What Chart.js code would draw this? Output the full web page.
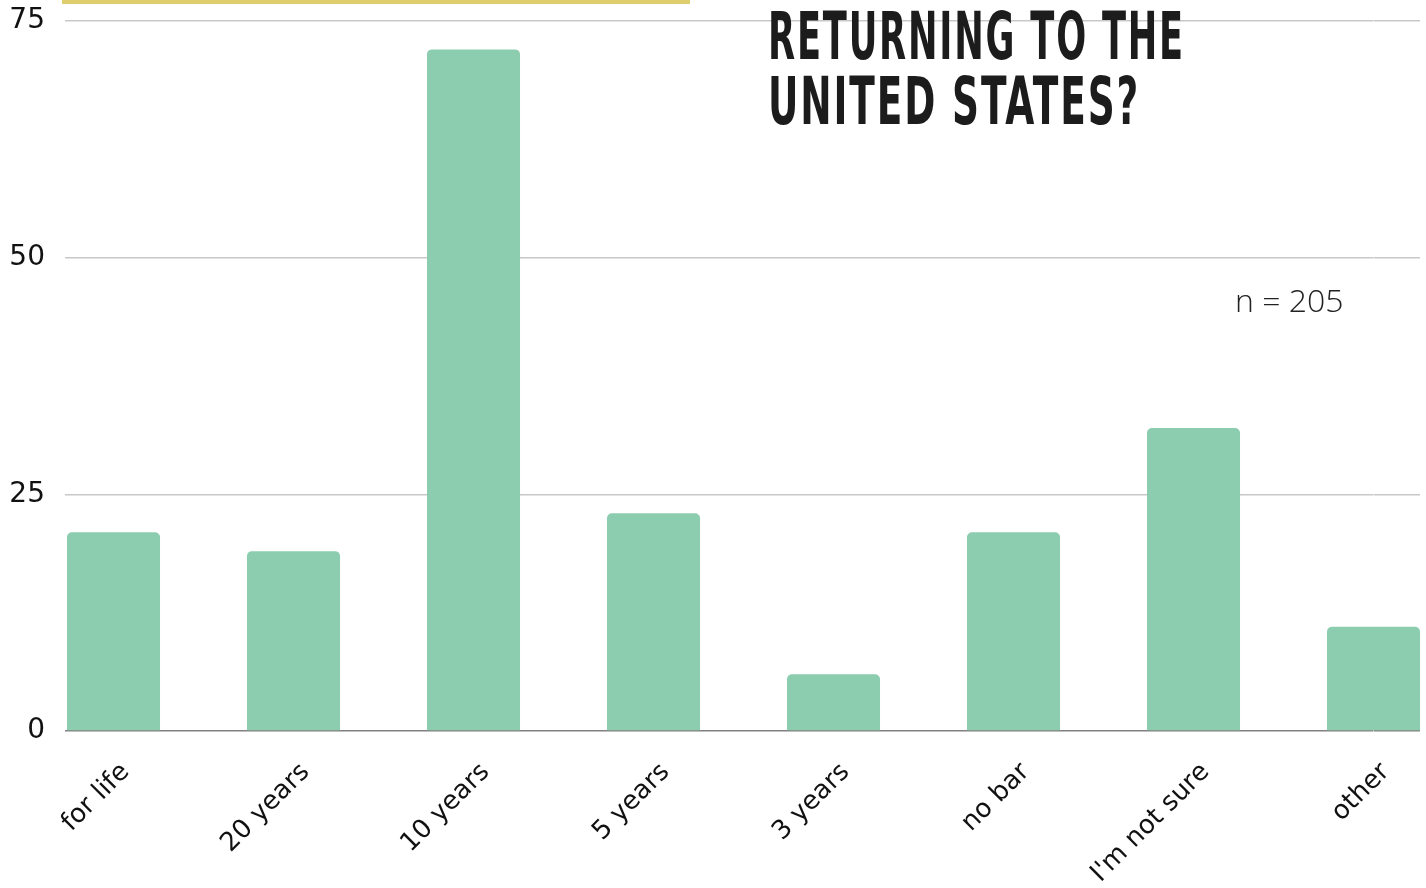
<!DOCTYPE html>
<html>
<head>
<meta charset="utf-8">
<script src="https://cdn.jsdelivr.net/npm/chart.js@4"></script>
<style>
    html, body { margin: 0; padding: 0; background: #fff; }
    #wrap { position: relative; width: 1426px; height: 888px; overflow: hidden; }
    #topBar { position: absolute; left: 62px; top: 0; width: 628px; height: 4px; background: #DFCE6E; }
    .title { position: absolute; left: 768px; font-family: 'DejaVu Sans Condensed', 'DejaVu Sans'; font-weight: bold;
             font-size: 66px; line-height: 1; color: #1c1c1c; white-space: nowrap; transform-origin: 0 0;
             letter-spacing: 3px; }
    #note { position: absolute; left: 1235px; top: 284px; font-family: 'Open Sans'; font-weight: 300;
            font-size: 32px; line-height: 1; color: #222; white-space: nowrap; }
</style>
</head>
<body>
<div id="wrap">
    <canvas id="surveyChart" width="1426" height="888"></canvas>
    <div id="topBar"></div>
    <div class="title" id="t1" data-w="417" style="top:4px">RETURNING TO THE</div>
    <div class="title" id="t2" data-w="372" style="top:69px">UNITED STATES?</div>
    <div id="note">n = 205</div>
</div>
<script>
const categories = ['for life', '20 years', '10 years', '5 years', '3 years', 'no bar', "I'm not sure", 'other'];
const responses = [21, 19, 72, 23, 6, 21, 32, 11];
const yTicks = [0, 25, 50, 75];

document.addEventListener('DOMContentLoaded', () => {

    const palette = {
        bar: '#8DCDAF',
        grid: '#c8c8c8',
        zero: '#808080',
        text: '#111111'
    };

    // squeeze the heading lines to the condensed width of the original
    document.querySelectorAll('.title').forEach(el => {
        const target = parseFloat(el.dataset.w);
        el.style.transform = 'scaleX(' + (target / el.offsetWidth) + ')';
    });

    const gridColor = (ctx) => (ctx.tick && ctx.tick.value === 0) ? palette.zero : palette.grid;

    const ctx = document.getElementById('surveyChart').getContext('2d');
    new Chart(ctx, {
        type: 'bar',
        data: {
            labels: categories,
            datasets: [{
                data: responses,
                backgroundColor: palette.bar,
                borderRadius: 5,
                borderSkipped: 'start',
                barPercentage: 0.517,
                categoryPercentage: 1,
                clip: false
            }]
        },
        options: {
            responsive: false,
            animation: false,
            layout: { padding: { top: 21, right: 6, left: 0, bottom: 0 } },
            plugins: {
                legend: { display: false },
                tooltip: { enabled: false }
            },
            scales: {
                x: {
                    offset: false,
                    grid: { display: false },
                    border: { display: false },
                    ticks: {
                        minRotation: 45,
                        maxRotation: 45,
                        padding: 18,
                        labelOffset: 12,
                        color: palette.text,
                        font: { family: 'DejaVu Sans', size: 26 }
                    },
                    afterFit: (scale) => { scale.height = 157; }
                },
                y: {
                    min: yTicks[0],
                    max: yTicks[yTicks.length - 1],
                    afterBuildTicks: (scale) => { scale.ticks = yTicks.map(v => ({ value: v })); },
                    grid: {
                        color: gridColor,
                        lineWidth: 1.5,
                        tickLength: 48.5
                    },
                    border: { display: false },
                    ticks: {
                        padding: 20,
                        color: palette.text,
                        font: { family: 'DejaVu Sans', size: 28 }
                    },
                    afterFit: (scale) => {
                        scale.width = 113.5;
                        // the label padding is horizontal only here, keep it out of the top inset
                        scale.paddingTop = 0;
                        scale.paddingBottom = 0;
                    }
                },
                y2: {
                    position: 'right',
                    min: yTicks[0],
                    max: yTicks[yTicks.length - 1],
                    afterBuildTicks: (scale) => { scale.ticks = yTicks.map(v => ({ value: v })); },
                    grid: {
                        color: gridColor,
                        lineWidth: 1.5,
                        tickLength: 46.5,
                        drawOnChartArea: false
                    },
                    border: { display: false },
                    ticks: { display: false },
                    afterFit: (scale) => { scale.width = 46.5; }
                }
            }
        }
    });
});
</script>
</body>
</html>
